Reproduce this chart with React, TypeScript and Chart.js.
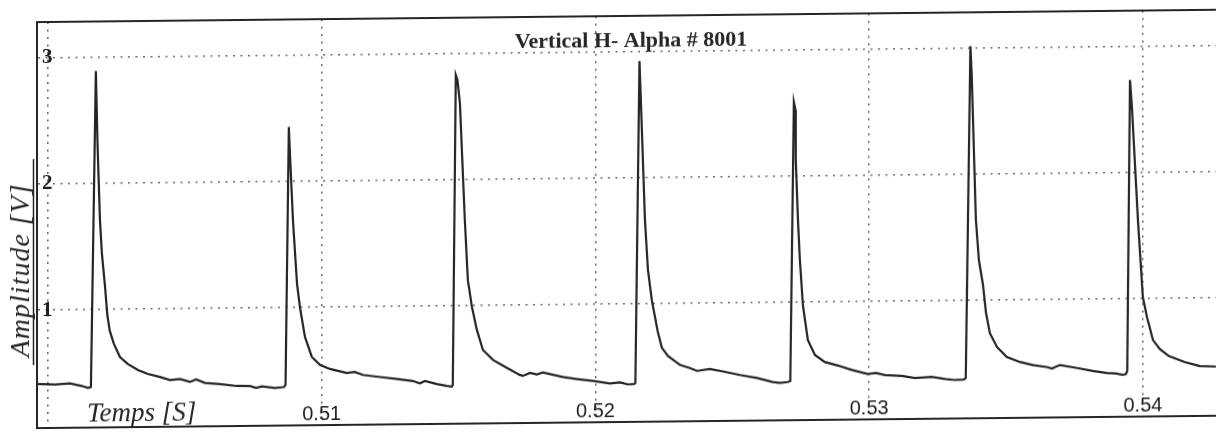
import React, { useEffect, useRef } from 'react';
import { Chart, registerables } from 'chart.js';

Chart.register(...registerables);

// Time axis [s]
const timeS = [
  0.4996, 0.50026, 0.5008, 0.50124, 0.50146, 0.50157,
  0.50175, 0.50181, 0.5019, 0.50197, 0.50208, 0.50217, 0.50226, 0.50241, 0.50263, 0.50292,
  0.50329, 0.50365, 0.50409, 0.50446, 0.50482, 0.50519, 0.50541, 0.50574, 0.50628, 0.5069,
  0.50738, 0.5076, 0.50782, 0.50829, 0.50862,
  0.50868, 0.5088, 0.50884, 0.50895, 0.5091, 0.50921, 0.50939, 0.50964, 0.50994, 0.5103,
  0.51092, 0.51121, 0.51151, 0.51213, 0.51275, 0.51333, 0.51359, 0.51377, 0.51421, 0.51458, 0.51476,
  0.51479, 0.5149, 0.51496, 0.51505, 0.51523, 0.51534, 0.51549, 0.51567, 0.51589, 0.51626,
  0.51677, 0.51724, 0.51735, 0.51761, 0.51786, 0.51808, 0.51881, 0.51932, 0.51991, 0.52053,
  0.5209, 0.52119, 0.52141,
  0.52146, 0.52161, 0.52166, 0.52181, 0.52192, 0.52206, 0.52228, 0.52243, 0.52265, 0.52309,
  0.52345, 0.52371, 0.52418, 0.52466, 0.52528, 0.5259, 0.52648, 0.52674, 0.52703,
  0.52712, 0.52725, 0.52731, 0.52732, 0.5274, 0.52747, 0.52758, 0.52776, 0.52802, 0.52838,
  0.52886, 0.52937, 0.52995, 0.53025, 0.53058, 0.5312, 0.53167, 0.53229, 0.53277, 0.53313, 0.53346,
  0.53353, 0.5337, 0.53375, 0.5339, 0.53401, 0.53416, 0.53427, 0.53441, 0.53467, 0.53503,
  0.53551, 0.53598, 0.53649, 0.53668, 0.53697, 0.53759, 0.53817, 0.53869, 0.53901, 0.53927, 0.53938,
  0.53943, 0.53953, 0.5396, 0.53982, 0.54, 0.54015, 0.54037, 0.54062, 0.54095, 0.54153, 0.54208, 0.54267,
];

// Amplitude [V]
const amplitudeV = [
  0.416, 0.411, 0.418, 0.397, 0.381, 0.388,
  2.89, 2.32, 1.71, 1.448, 1.195, 0.957, 0.83, 0.727, 0.623, 0.567,
  0.519, 0.487, 0.462, 0.437, 0.444, 0.42, 0.439, 0.411, 0.401, 0.384,
  0.383, 0.367, 0.378, 0.365, 0.372,
  0.388, 2.43, 2.225, 1.694, 1.187, 0.996, 0.766, 0.608, 0.543, 0.511,
  0.478, 0.485, 0.461, 0.443, 0.426, 0.409, 0.389, 0.408, 0.383, 0.367, 0.362,
  0.374, 2.828, 2.789, 2.606, 1.679, 1.204, 0.99, 0.808, 0.649, 0.569,
  0.504, 0.448, 0.44, 0.463, 0.45, 0.466, 0.428, 0.411, 0.394, 0.373,
  0.38, 0.364, 0.367,
  0.375, 2.924, 2.615, 1.665, 1.268, 1.031, 0.777, 0.65, 0.586, 0.514,
  0.489, 0.465, 0.479, 0.459, 0.429, 0.404, 0.371, 0.363, 0.37,
  0.378, 2.586, 2.523, 2.127, 1.652, 1.335, 0.978, 0.701, 0.582, 0.525,
  0.496, 0.46, 0.427, 0.434, 0.417, 0.408, 0.391, 0.398, 0.381, 0.372, 0.375,
  0.387, 3.015, 2.77, 1.641, 1.32, 1.122, 0.9, 0.741, 0.63, 0.55,
  0.509, 0.484, 0.467, 0.455, 0.482, 0.457, 0.432, 0.415, 0.41, 0.398, 0.405,
  0.429, 2.733, 2.519, 1.624, 1.013, 0.855, 0.672, 0.6, 0.544, 0.495, 0.462, 0.457,
];

const xTickValues = [0.5, 0.51, 0.52, 0.53, 0.54];
const yTickValues = [1, 2, 3];
const titleText = 'Vertical H- Alpha # 8001';
const xLabelText = 'Temps [S]';
const yLabelText = 'Amplitude [V]';

const INK = '#262626';
const GRID = 'rgba(70,70,70,0.8)';

const decorPlugin = {
  id: 'scanDecor',
  afterDraw(chart: any) {
    const { ctx, chartArea: a } = chart;
    ctx.save();
    // top frame line
    ctx.strokeStyle = INK;
    ctx.lineWidth = 2;
    ctx.beginPath();
    ctx.moveTo(a.left - 1, a.top);
    ctx.lineTo(a.right, a.top);
    ctx.stroke();
    // hand-drawn stroke beside the amplitude label
    ctx.lineWidth = 1.5;
    ctx.beginPath();
    ctx.moveTo(a.left - 3.5, 159);
    ctx.lineTo(a.left - 3.5, 365);
    ctx.stroke();
    // title
    ctx.fillStyle = INK;
    ctx.font = 'bold 22px "Liberation Serif"';
    ctx.textAlign = 'center';
    ctx.textBaseline = 'alphabetic';
    ctx.fillText(titleText, 631, a.top + 31);
    // x label (handwritten)
    ctx.font = 'italic 27px "Liberation Serif"';
    ctx.textAlign = 'left';
    ctx.fillText(xLabelText, a.left + 50, a.bottom - 6);
    // y label (handwritten, rotated)
    ctx.translate(29, 357);
    ctx.rotate(-Math.PI / 2);
    (ctx as any).letterSpacing = '1px';
    ctx.font = 'italic 28px "Liberation Serif"';
    ctx.fillText(yLabelText, 0, 0);
    ctx.restore();
  },
};

export default function App() {
  const canvasRef = useRef<HTMLCanvasElement | null>(null);

  useEffect(() => {
    document.body.style.margin = '0';
    const canvas = canvasRef.current;
    if (!canvas) return;
    const points = timeS.map((t, i) => ({ x: t, y: amplitudeV[i] }));
    const chart = new Chart(canvas, {
      type: 'line',
      data: {
        datasets: [
          {
            data: points,
            borderColor: INK,
            borderWidth: 2.2,
            pointRadius: 0,
            tension: 0,
            fill: false,
          },
        ],
      },
      options: {
        animation: false,
        responsive: false,
        devicePixelRatio: 1,
        layout: { padding: { left: 37, top: 22, right: 0, bottom: 0 } },
        plugins: {
          legend: { display: false },
          tooltip: { enabled: false },
          title: { display: false },
        },
        scales: {
          x: {
            type: 'linear',
            min: 0.4996,
            max: 0.54267,
            afterBuildTicks: (s: any) => {
              s.ticks = xTickValues.map((v) => ({ value: v }));
            },
            afterFit: (s: any) => {
              s.height = 8;
              s.paddingLeft = 0;
              s.paddingRight = 0;
            },
            ticks: {
              mirror: true,
              padding: -1,
              color: '#1e1e1e',
              font: { family: '"Liberation Sans", Arial, sans-serif', size: 20 },
              maxRotation: 0,
              autoSkip: false,
              callback: (v: any) => (Number(v) < 0.505 ? '' : Number(v).toFixed(2)),
            },
            grid: {
              color: GRID,
              lineWidth: 1.6,
              drawTicks: false,
            },
            border: { display: true, color: INK, width: 2, dash: [2, 5.5] },
          },
          y: {
            type: 'linear',
            min: 0.067,
            max: 3.282,
            afterBuildTicks: (s: any) => {
              s.ticks = yTickValues.map((v) => ({ value: v }));
            },
            afterFit: (s: any) => {
              s.width = 0;
              s.paddingTop = 0;
              s.paddingBottom = 0;
            },
            ticks: {
              mirror: true,
              padding: 5,
              color: '#1e1e1e',
              font: { family: '"Liberation Serif", serif', size: 21, weight: 'bold' },
              callback: (v: any) => String(v),
            },
            grid: {
              color: GRID,
              lineWidth: 1.6,
              drawTicks: false,
            },
            border: { display: true, color: INK, width: 2, dash: [2, 5.5] },
          },
        },
      },
      plugins: [decorPlugin],
    });
    return () => chart.destroy();
  }, []);

  return (
    <div style={{ width: 1216, height: 436, overflow: 'hidden', background: '#fff' }}>
      <canvas
        ref={canvasRef}
        width={1216}
        height={436}
        style={{
          display: 'block',
          width: 1216,
          height: 436,
          transform: 'skewY(-0.6deg)',
          transformOrigin: '48px 0px',
        }}
      />
    </div>
  );
}
